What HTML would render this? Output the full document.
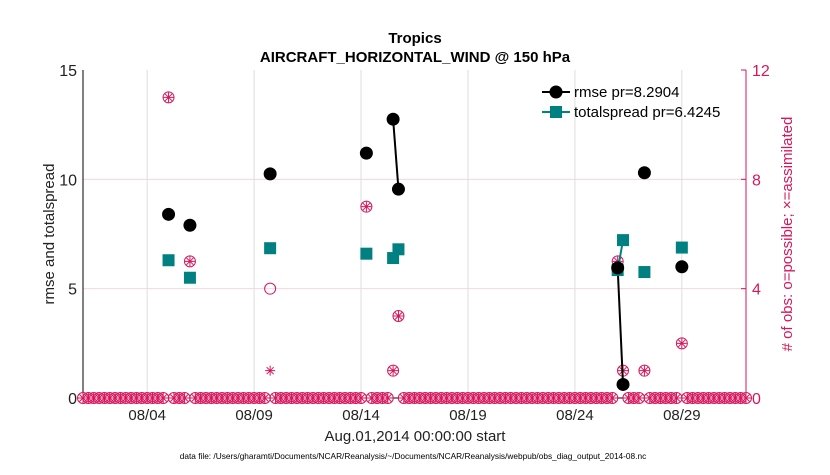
<!DOCTYPE html>
<html><head><meta charset="utf-8"><style>
body{margin:0;background:#fff;}
svg text{font-family:"Liberation Sans",Arial,sans-serif;}
</style></head><body>
<svg id="chart" width="830" height="470" viewBox="0 0 830 470" xmlns="http://www.w3.org/2000/svg">
<rect x="0" y="0" width="830" height="470" fill="#fff"/>
<text x="415" y="43" text-anchor="middle" font-size="15" font-weight="bold">Tropics</text>
<text x="415" y="62" text-anchor="middle" font-size="15" font-weight="bold">AIRCRAFT_HORIZONTAL_WIND @ 150 hPa</text>
<g id="grid"></g>
<g id="axes"></g>
<g id="marks"></g>
<text transform="translate(54,234) rotate(-90)" text-anchor="middle" font-size="15" fill="#222">rmse and totalspread</text>
<text transform="translate(792,234) rotate(-90)" text-anchor="middle" font-size="15" fill="#d6175c"># of obs: o=possible; ×=assimilated</text>
<text x="415" y="441" text-anchor="middle" font-size="15" fill="#222">Aug.01,2014 00:00:00 start</text>
<text x="413" y="459" text-anchor="middle" font-size="8.3" fill="#000">data file: /Users/gharamti/Documents/NCAR/Reanalysis/~/Documents/NCAR/Reanalysis/webpub/obs_diag_output_2014-08.nc</text>
<g>
<line x1="542" y1="92" x2="570" y2="92" stroke="#000" stroke-width="2"/>
<circle cx="556" cy="92" r="6.5" fill="#000"/>
<text x="574" y="97" font-size="15">rmse pr=8.2904</text>
<line x1="542" y1="112" x2="570" y2="112" stroke="#008080" stroke-width="2"/>
<rect x="550" y="106" width="12" height="12" fill="#008080"/>
<text x="574" y="117" font-size="15">totalspread pr=6.4245</text>
</g>
</svg>
<script>
// data (time offset in days from Aug 01 00:00)
const times = [4.0, 5.0, 8.75, 13.25, 14.5, 14.75, 25.0, 25.25, 26.25, 28.0];
const rmse = [8.4, 7.9, 10.25, 11.2, 12.75, 9.55, 5.95, 0.62, 10.3, 6.0];
const spread = [6.3, 5.5, 6.85, 6.6, 6.4, 6.8, 5.85, 7.22, 5.76, 6.88];
const nPossible = [11, 5, 4, 7, 1, 3, 5, 1, 1, 2];
const nAssim = [11, 5, 1, 7, 1, 3, 5, 1, 1, 2];
const xTickDays = [3, 8, 13, 18, 23, 28];
const xTickLabels = ['08/04','08/09','08/14','08/19','08/24','08/29'];
const yTicks = [0, 5, 10, 15];
const y2Ticks = [0, 4, 8, 12];

const NS='http://www.w3.org/2000/svg';
const L=83,R=746,T=70,B=398;
const x=d=>L+d*(R-L)/31;
const y=v=>B-v*(B-T)/15;
const y2=v=>B-v*(B-T)/12;
function mk(tag,attrs,parent){const e=document.createElementNS(NS,tag);for(const k in attrs)e.setAttribute(k,attrs[k]);parent.appendChild(e);return e;}
const grid=document.getElementById('grid'),axes=document.getElementById('axes'),marks=document.getElementById('marks');

xTickDays.forEach((d,i)=>{
  const g=mk('line',{x1:x(d),x2:x(d),y1:T,y2:B,stroke:'#ddd','stroke-width':1},grid);
  
  
  const t=mk('text',{x:x(d),y:B+22,'text-anchor':'middle','font-size':15,fill:'#222'},axes);
  t.textContent=xTickLabels[i];
  
  
});
yTicks.forEach(v=>{
  if(v>0&&v<15){const g=mk('line',{x1:L,x2:R,y1:y(v),y2:y(v),stroke:'#f2d6e0','stroke-width':1},grid);
  
  }
  const t=mk('text',{x:L-6,y:y(v)+6,'text-anchor':'end','font-size':16,fill:'#222'},axes);
  t.textContent=v;
  
  
});
y2Ticks.forEach(v=>{
  mk('line',{x1:R-5,x2:R,y1:y2(v),y2:y2(v),stroke:'#d6175c'},axes);
  const t=mk('text',{x:R+6,y:y2(v)+6,'font-size':16,fill:'#d6175c'},axes);
  t.textContent=v;
  
  
});
const ax=mk('path',{d:`M${L},${T}V${B}H${R}`,fill:'none',stroke:'#000','stroke-width':1},axes);


const ax2=mk('line',{x1:R,x2:R,y1:T,y2:B,stroke:'#d6175c','stroke-width':1},axes);


const C='#d6175c';
function circ(cx,cy){mk('circle',{cx,cy,r:5.5,fill:'none',stroke:C,'stroke-width':1},marks);}
function star(cx,cy){const r=5;mk('path',{d:`M${cx-r},${cy}H${cx+r}M${cx},${cy-r}V${cy+r}M${cx-3.5},${cy-3.5}L${cx+3.5},${cy+3.5}M${cx-3.5},${cy+3.5}L${cx+3.5},${cy-3.5}`,stroke:C,'stroke-width':1},marks);}
// zero-count slots
const occupied=times.map(t=>Math.round(t*4));
for(let s=0;s<=124;s++){
  if(occupied.includes(s))continue;
  circ(x(s/4),B);star(x(s/4),B);
}
times.forEach((t,i)=>{circ(x(t),y2(nPossible[i]));star(x(t),y2(nAssim[i]));});
// lines between consecutive 6h slots
for(let i=1;i<times.length;i++){
  if(Math.abs(times[i]-times[i-1]-0.25)<1e-6){
    mk('line',{x1:x(times[i-1]),y1:y(spread[i-1]),x2:x(times[i]),y2:y(spread[i]),stroke:'#008080','stroke-width':2},marks);
    mk('line',{x1:x(times[i-1]),y1:y(rmse[i-1]),x2:x(times[i]),y2:y(rmse[i]),stroke:'#000','stroke-width':2},marks);
  }
}
times.forEach((t,i)=>{
  const s=mk('rect',{x:x(t)-6,y:y(spread[i])-6,width:12,height:12,fill:'#008080'},marks);
  
  
  const c=mk('circle',{cx:x(t),cy:y(rmse[i]),r:6.5,fill:'#000'},marks);
  
  
});
</script>
</body></html>
